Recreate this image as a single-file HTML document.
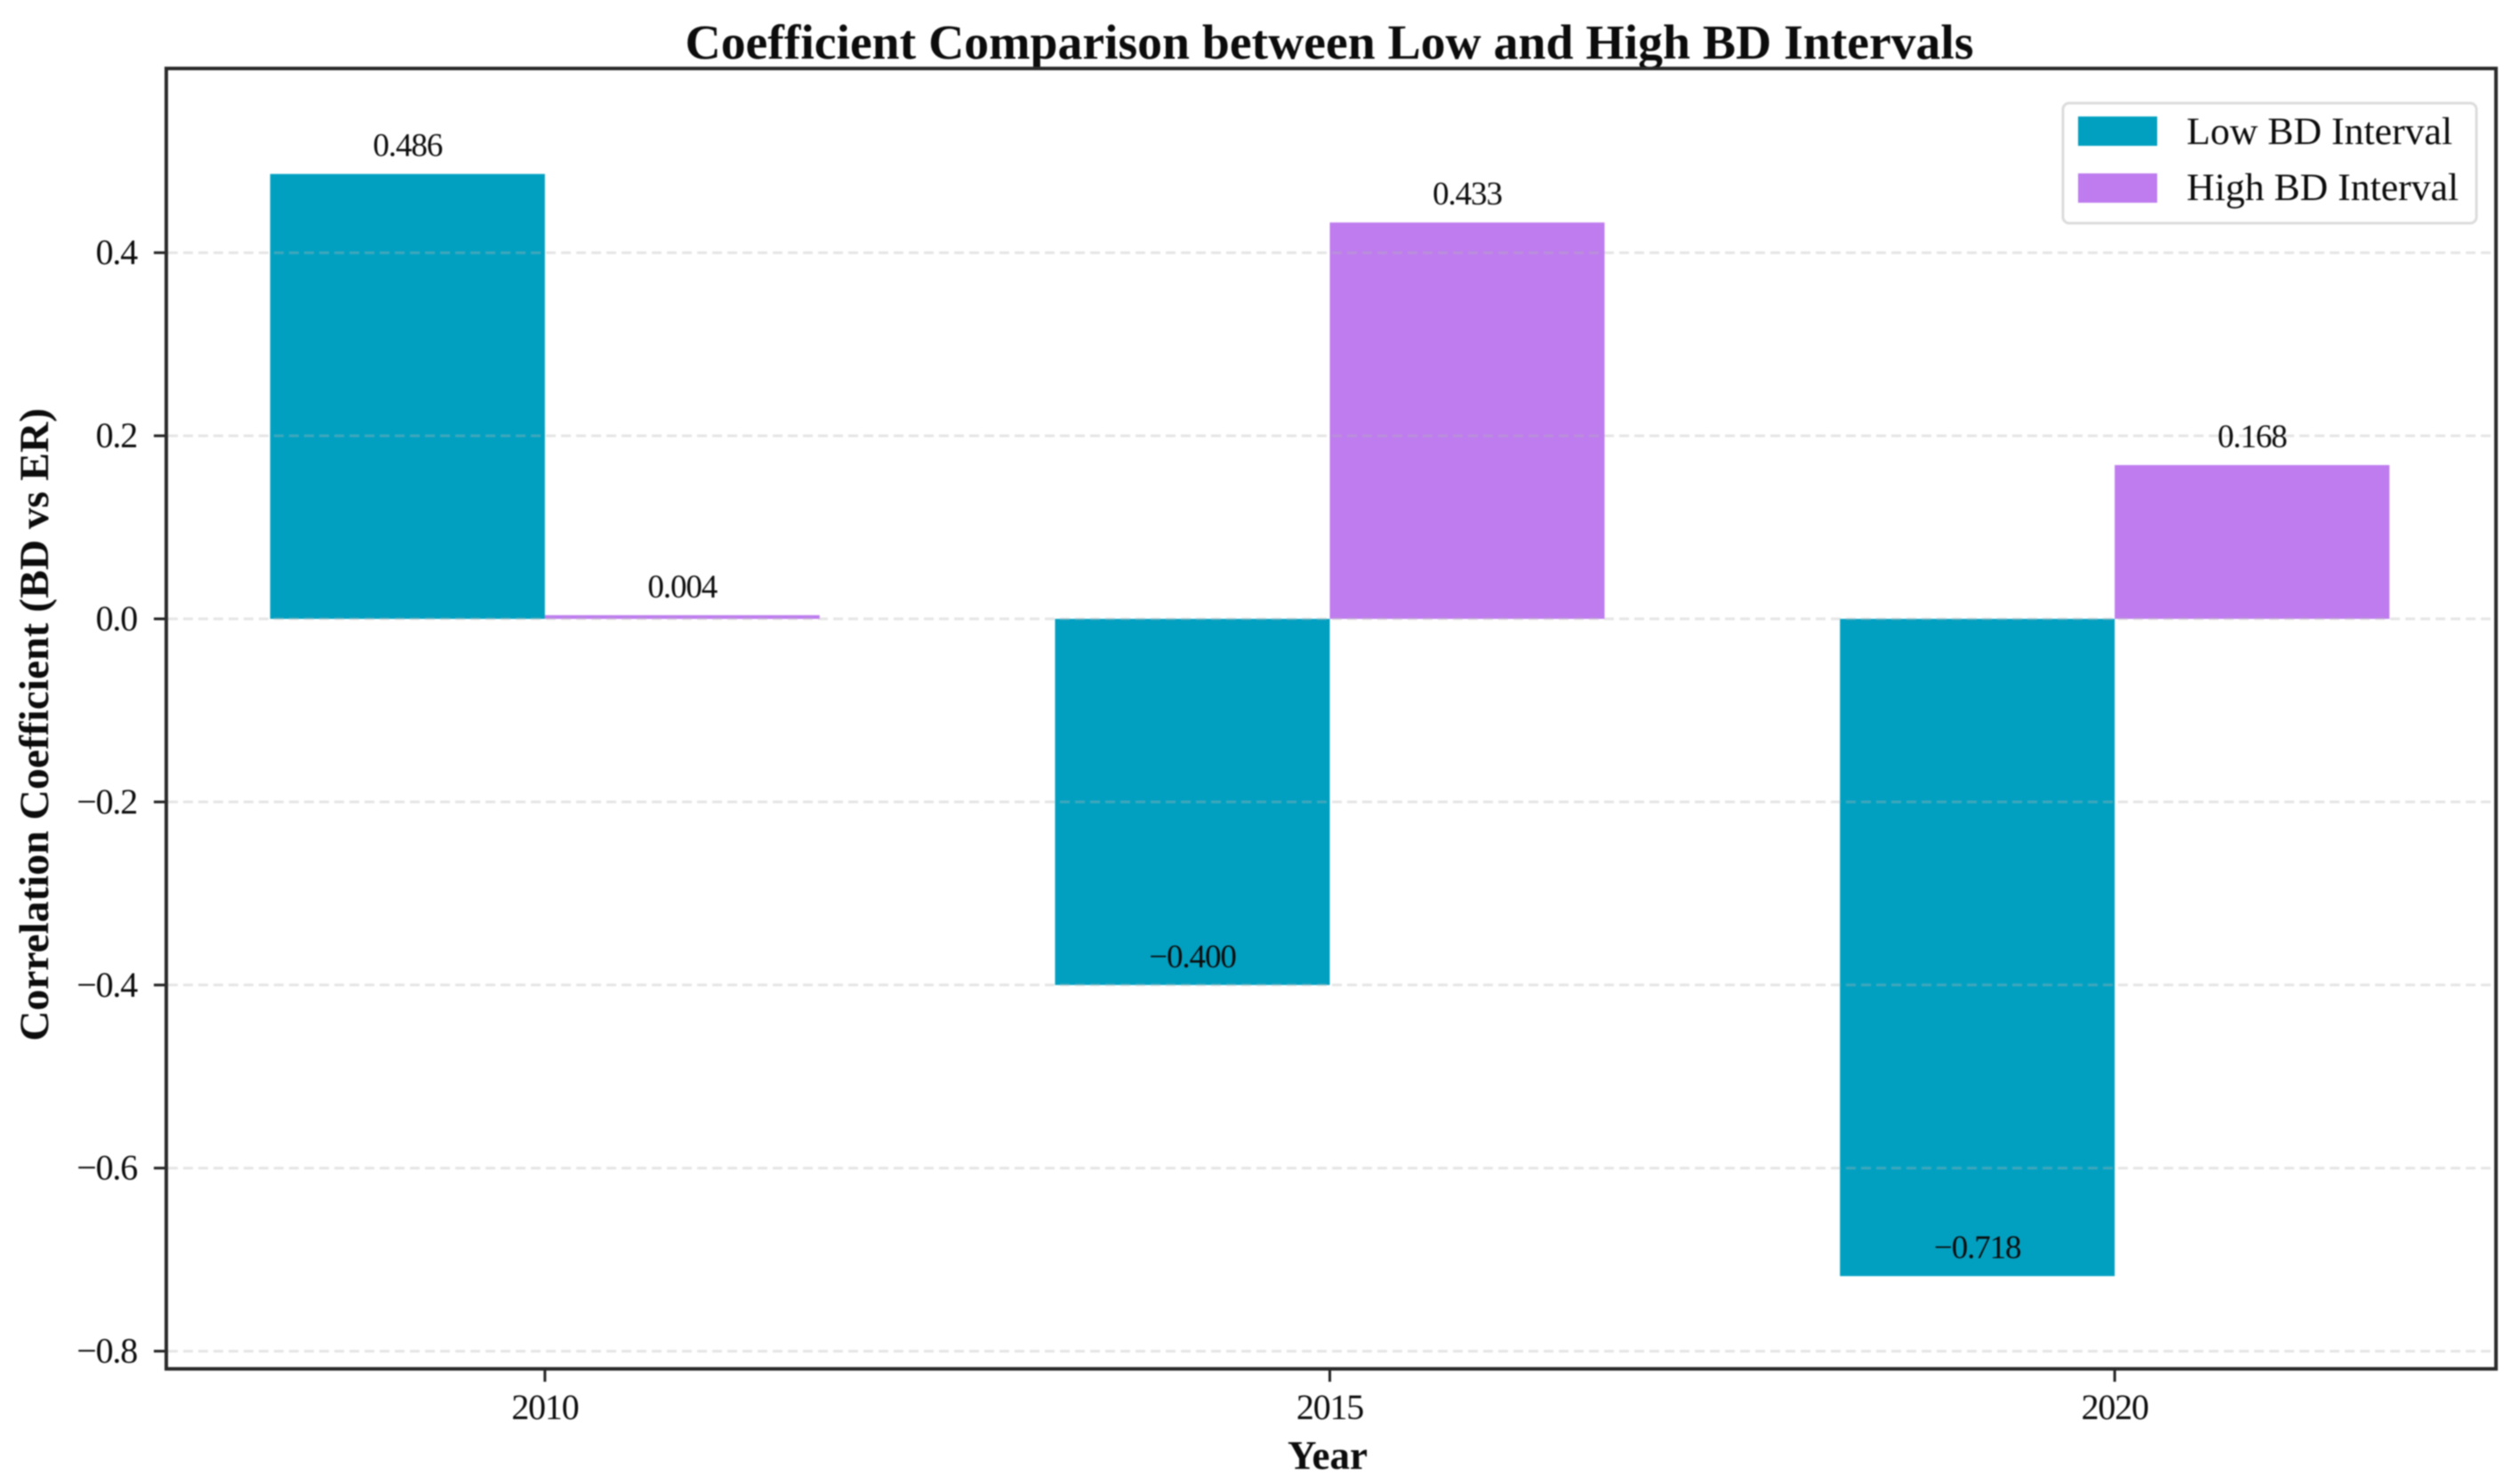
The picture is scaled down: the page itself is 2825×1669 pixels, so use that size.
<!DOCTYPE html>
<html lang="en">
<head>
<meta charset="utf-8">
<title>Coefficient Comparison between Low and High BD Intervals</title>
<style>
  html, body { margin: 0; padding: 0; background: #fff; }
  body { width: 2825px; height: 1669px; overflow: hidden; }
  svg { display: block; filter: blur(0.8px); }
  text { font-family: "Liberation Serif", "Times New Roman", serif; fill: #0c0c0c; }
</style>
</head>
<body>
<svg id="chart" xmlns="http://www.w3.org/2000/svg" width="2825" height="1669" viewBox="0 0 2825 1669">
  <rect x="0" y="0" width="2825" height="1669" fill="#ffffff"/>
  <text x="1495" y="66" text-anchor="middle" font-size="55" font-weight="bold" textLength="1449" lengthAdjust="spacingAndGlyphs">Coefficient Comparison between Low and High BD Intervals</text>
  <text transform="translate(54,815) rotate(-90)" text-anchor="middle" font-size="47" font-weight="bold" textLength="712" lengthAdjust="spacingAndGlyphs">Correlation Coefficient (BD vs ER)</text>
  <text x="1493" y="1652" text-anchor="middle" font-size="46" font-weight="bold" textLength="90" lengthAdjust="spacingAndGlyphs">Year</text>
  <g id="bars"></g>
  <g id="grid"></g>
  <g id="labels"></g>
  <g id="ticks"></g>
  <rect x="187" y="77" width="2620" height="1462.5" fill="none" stroke="#2a2a2a" stroke-width="4"/>
  <g>
    <rect x="2320" y="116" width="465" height="135" rx="7" fill="#ffffff" fill-opacity="0.8" stroke="#dcdcdc" stroke-width="3"/>
    <rect x="2337" y="131" width="89" height="33" fill="#01a0c1"/>
    <text x="2459" y="162" font-size="43" textLength="299" lengthAdjust="spacingAndGlyphs">Low BD Interval</text>
    <rect x="2337" y="195" width="89" height="33" fill="#be7cef"/>
    <text x="2459" y="225" font-size="43" textLength="306" lengthAdjust="spacingAndGlyphs">High BD Interval</text>
  </g>
</svg>
<script>
const categories = ["2010", "2015", "2020"];
const lowValues = [0.486, -0.400, -0.718];
const highValues = [0.004, 0.433, 0.168];
const yTickValues = [0.4, 0.2, 0.0, -0.2, -0.4, -0.6, -0.8];
const yTickLabels = ["0.4", "0.2", "0.0", "\u22120.2", "\u22120.4", "\u22120.6", "\u22120.8"];

const NS = "http://www.w3.org/2000/svg";
const yZero = 696;
const yUnit = 1029.5;
const xFirst = 612.8;
const xStep = 882.7;
const barWidth = 309;

function yScale(v) { return yZero - v * yUnit; }
function xScale(i) { return xFirst + i * xStep; }
function fmt(v) { return (v < 0 ? "\u2212" : "") + Math.abs(v).toFixed(3); }
function make(tag, attrs, parent) {
  const el = document.createElementNS(NS, tag);
  for (const k in attrs) el.setAttribute(k, attrs[k]);
  parent.appendChild(el);
  return el;
}

const barsG = document.getElementById("bars");
const gridG = document.getElementById("grid");
const labelsG = document.getElementById("labels");
const ticksG = document.getElementById("ticks");

function drawBar(value, i, offset, color, series) {
  const x = xScale(i) + offset;
  const top = Math.min(yScale(value), yZero);
  const h = Math.abs(yScale(value) - yZero);
  const bar = make("rect", { x: x, y: top, width: barWidth, height: h, fill: color }, barsG);
  
  
  const label = make("text", { x: x + barWidth / 2, y: yScale(value) - 20, "text-anchor": "middle", "font-size": 37, "letter-spacing": "-1.1px" }, labelsG);
  label.textContent = fmt(value);
  
  
}

categories.forEach(function (cat, i) {
  drawBar(lowValues[i], i, -barWidth, "#01a0c1", "low");
  drawBar(highValues[i], i, 0, "#be7cef", "high");

  const tick = make("line", { x1: xScale(i), x2: xScale(i), y1: 1539, y2: 1554, stroke: "#222", "stroke-width": 3 }, ticksG);
  
  
  const tl = make("text", { x: xScale(i), y: 1596, "text-anchor": "middle", "font-size": 40, "letter-spacing": "-1.2px" }, ticksG);
  tl.textContent = cat;
  
  
});

yTickValues.forEach(function (v, i) {
  const y = yScale(v);
  const g = make("line", { x1: 189, x2: 2805, y1: y, y2: y, stroke: "#b4b4b4", "stroke-opacity": 0.35, "stroke-width": 3, "stroke-dasharray": "11 6" }, gridG);
  
  
  const t = make("line", { x1: 173, x2: 187, y1: y, y2: y, stroke: "#222", "stroke-width": 3 }, ticksG);
  
  
  const tl = make("text", { x: 154, y: y + 13, "text-anchor": "end", "font-size": 40, "letter-spacing": "-1.2px" }, ticksG);
  tl.textContent = yTickLabels[i];
  
  
});
</script>
</body>
</html>
